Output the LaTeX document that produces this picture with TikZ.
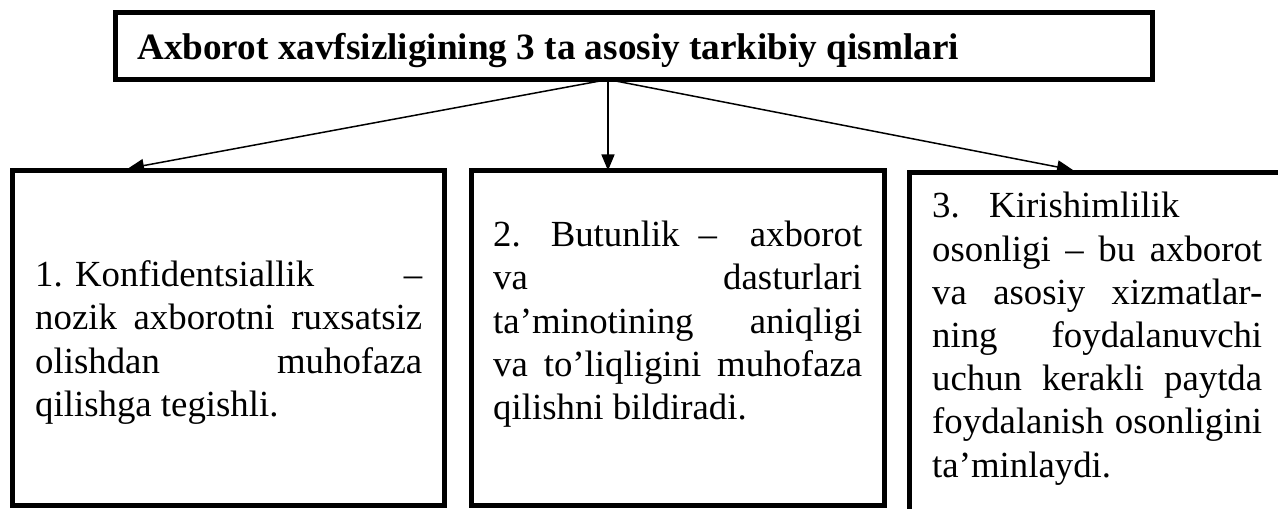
\documentclass[tikz,border=0pt]{standalone}
\usepackage{fontspec}
\setmainfont{Liberation Serif}
\usetikzlibrary{arrows.meta}
\tikzset{
  boxframe/.style={draw, line width=5pt, inner sep=0pt, outer sep=0pt, anchor=north west},
  bodytext/.style={anchor=base west, inner sep=0pt, font=\fontsize{36.8}{43.2}\selectfont},
  titletext/.style={anchor=base west, inner sep=0pt, font=\fontsize{37.2}{44}\selectfont\bfseries},
  conn/.style={line width=1.5pt, -{Triangle[length=16pt,width=13pt]}},
}
\newcommand{\jline}[1]{\makebox[\linewidth][s]{#1}}
\begin{document}
\begin{tikzpicture}[x=1pt,y=1pt]
\useasboundingbox (0,0) rectangle (1278,509);
% frames
\node[boxframe, minimum width=1037pt, minimum height=67pt] (top) at (115.5,496.5) {};
\node[boxframe, minimum width=432pt, minimum height=335pt] (b1) at (12.5,338.5) {};
\node[boxframe, minimum width=413pt, minimum height=335pt] (b2) at (471.5,338.5) {};
\node[boxframe, minimum width=420pt, minimum height=360pt] (b3) at (909.5,336.5) {};
% texts
\node[titletext] (title) at (137,449.7) {Axborot xavfsizligining 3 ta asosiy tarkibiy qismlari};
\node[bodytext] (x1) at (35,222.3) {\parbox[t]{387pt}{%
\jline{1. Konfidentsiallik\hfill –}\\
\jline{nozik axborotni ruxsatsiz}\\
\jline{olishdan muhofaza}\\
qilishga tegishli.}};
\node[bodytext] (x2) at (493,262.3) {\parbox[t]{369pt}{%
\jline{2.\hspace{30pt}Butunlik\hspace{19pt}–\hfill axborot}\\
\jline{va dasturlari}\\
\jline{ta’minotining aniqligi}\\
\jline{va to’liqligini muhofaza}\\
qilishni bildiradi.}};
\node[bodytext] (x3) at (932,291) {\parbox[t]{330pt}{%
3.\hspace{0.8em}Kirishimlilik\\
\jline{osonligi – bu axborot}\\
\jline{va asosiy xizmatlar-}\\
\jline{ning foydalanuvchi}\\
\jline{uchun kerakli paytda}\\
\jline{foydalanish osonligini}\\
ta’minlaydi.}};
% connectors
\coordinate (src) at (608,429.5);
\coordinate (t1) at (128,340.5);
\coordinate (t3) at (1073,339);
\draw[conn] (src) -- (t1);
\draw[conn] (src) -- (src |- b2.north);
\draw[conn] (src) -- (t3);
\end{tikzpicture}
\end{document}
